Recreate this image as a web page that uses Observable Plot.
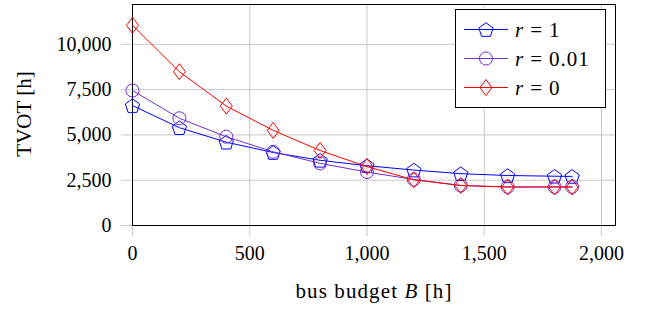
<!DOCTYPE html>
<html><head><meta charset="utf-8">
<script src="https://cdn.jsdelivr.net/npm/d3@7"></script>
<script src="https://cdn.jsdelivr.net/npm/@observablehq/plot@0.6"></script>
<style>body{margin:0;background:#fff}</style>
</head><body><div id="chart"></div>
<script>
const budget   = [0, 200, 400, 600, 800, 1000, 1200, 1400, 1600, 1800, 1875];
const tvotR1   = [6620, 5400, 4600, 4030, 3600, 3300, 3060, 2860, 2760, 2720, 2710];
const tvotR001 = [7450, 5920, 4900, 4070, 3430, 2950, 2540, 2210, 2130, 2130, 2130];
const tvotR0   = [11050, 8490, 6590, 5250, 4140, 3250, 2520, 2210, 2120, 2120, 2120];
const seriesNames = ["1", "0.01", "0"];
const seriesColors = ["#0000ff", "#7030c8", "#ff0000"];
const xTicks = [0, 500, 1000, 1500, 2000];
const yTicks = [0, 2500, 5000, 7500, 10000];

const pentagon = {draw(ctx, size) {
  const R = Math.sqrt(size / Math.PI);
  for (let i = 0; i < 5; i++) {
    const a = -Math.PI / 2 + i * 2 * Math.PI / 5;
    const px = R * Math.cos(a), py = R * Math.sin(a) + R * 0.1;
    if (i === 0) ctx.moveTo(px, py); else ctx.lineTo(px, py);
  }
  ctx.closePath();
}};
const tallDiamond = {draw(ctx, size) {
  const R = Math.sqrt(size / Math.PI);
  const w = R * 0.8, h = R * 1.07;
  ctx.moveTo(0, -h); ctx.lineTo(w, 0); ctx.lineTo(0, h); ctx.lineTo(-w, 0); ctx.closePath();
}};
const ring = {draw(ctx, size) {
  const R = Math.sqrt(size / Math.PI) * 0.87;
  ctx.moveTo(R, 0); ctx.arc(0, 0, R, 0, 2 * Math.PI);
}};
const symbols = [pentagon, ring, tallDiamond];

const seriesValues = [tvotR1, tvotR001, tvotR0];
const rows = seriesValues.map((vals, s) => budget.map((b, i) => ({b, v: vals[i], s})));

const grid = "#c8c8c8";
const fmt = d3.format(",");
const marks = [
  Plot.gridX(xTicks, {stroke: grid, strokeOpacity: 1, strokeWidth: 1}),
  Plot.gridY(yTicks, {stroke: grid, strokeOpacity: 1, strokeWidth: 1}),
  Plot.axisX({ticks: xTicks, tickSize: 11, tickPadding: 9, stroke: grid, strokeOpacity: 1, fill: "black", tickFormat: fmt, label: null}),
  Plot.axisY({ticks: yTicks, tickSize: 11, tickPadding: 10, stroke: grid, strokeOpacity: 1, fill: "black", tickFormat: fmt, label: null}),
  Plot.frame({stroke: "black", strokeWidth: 1})
];
rows.forEach((data, s) => {
  marks.push(Plot.line(data, {x: "b", y: "v", stroke: seriesColors[s], strokeWidth: 1}));
  marks.push(Plot.dot(data, {x: "b", y: "v", stroke: seriesColors[s], fill: "none", strokeWidth: 1, r: 7.5, symbol: symbols[s]}));
});

const chart = Plot.plot({
  width: 647, height: 309,
  marginLeft: 132, marginRight: 32, marginTop: 4, marginBottom: 84,
  x: {domain: [0, 2060]},
  y: {domain: [0, 12200]},
  style: {fontFamily: "'Liberation Serif', serif", fontSize: "20px", background: "white", color: "black"},
  marks
});
document.getElementById("chart").appendChild(chart);

const svg = d3.select(chart);
// axis labels
const xl = svg.append("text").attr("x", 374).attr("y", 298).attr("text-anchor", "middle")
  .attr("font-size", 21).attr("letter-spacing", "1.1px").attr("fill", "black");
xl.append("tspan").text("bus budget ");
xl.append("tspan").attr("font-style", "italic").text("B");
xl.append("tspan").text(" [h]");
svg.append("text").attr("transform", "translate(31,114) rotate(-90)").attr("text-anchor", "middle")
  .attr("font-size", 21).attr("fill", "black").text("TVOT [h]");

// legend
const lg = svg.append("g").attr("text-anchor", "start");
lg.append("rect").attr("x", 455.5).attr("y", 9.5).attr("width", 150).attr("height", 98)
  .attr("fill", "white").attr("stroke", "black").attr("stroke-width", 1);
seriesNames.forEach((name, s) => {
  const y = 29.5 + s * 29;
  lg.append("line").attr("x1", 464).attr("x2", 508).attr("y1", y).attr("y2", y)
    .attr("stroke", seriesColors[s]).attr("stroke-width", 1);
  lg.append("path").attr("transform", `translate(486,${y})`)
    .attr("d", d3.symbol(symbols[s], 7.5 * 7.5 * Math.PI)())
    .attr("fill", "none").attr("stroke", seriesColors[s]).attr("stroke-width", 1);
  const t = lg.append("text").attr("x", 515).attr("y", y + 7).attr("text-anchor", "start")
    .attr("font-size", 21).attr("fill", "black");
  t.append("tspan").attr("font-style", "italic").text("r");
  t.append("tspan").attr("dx", 7).text("=");
  t.append("tspan").attr("dx", 7).attr("letter-spacing", "1px").text(name);
});
</script>
</body></html>
